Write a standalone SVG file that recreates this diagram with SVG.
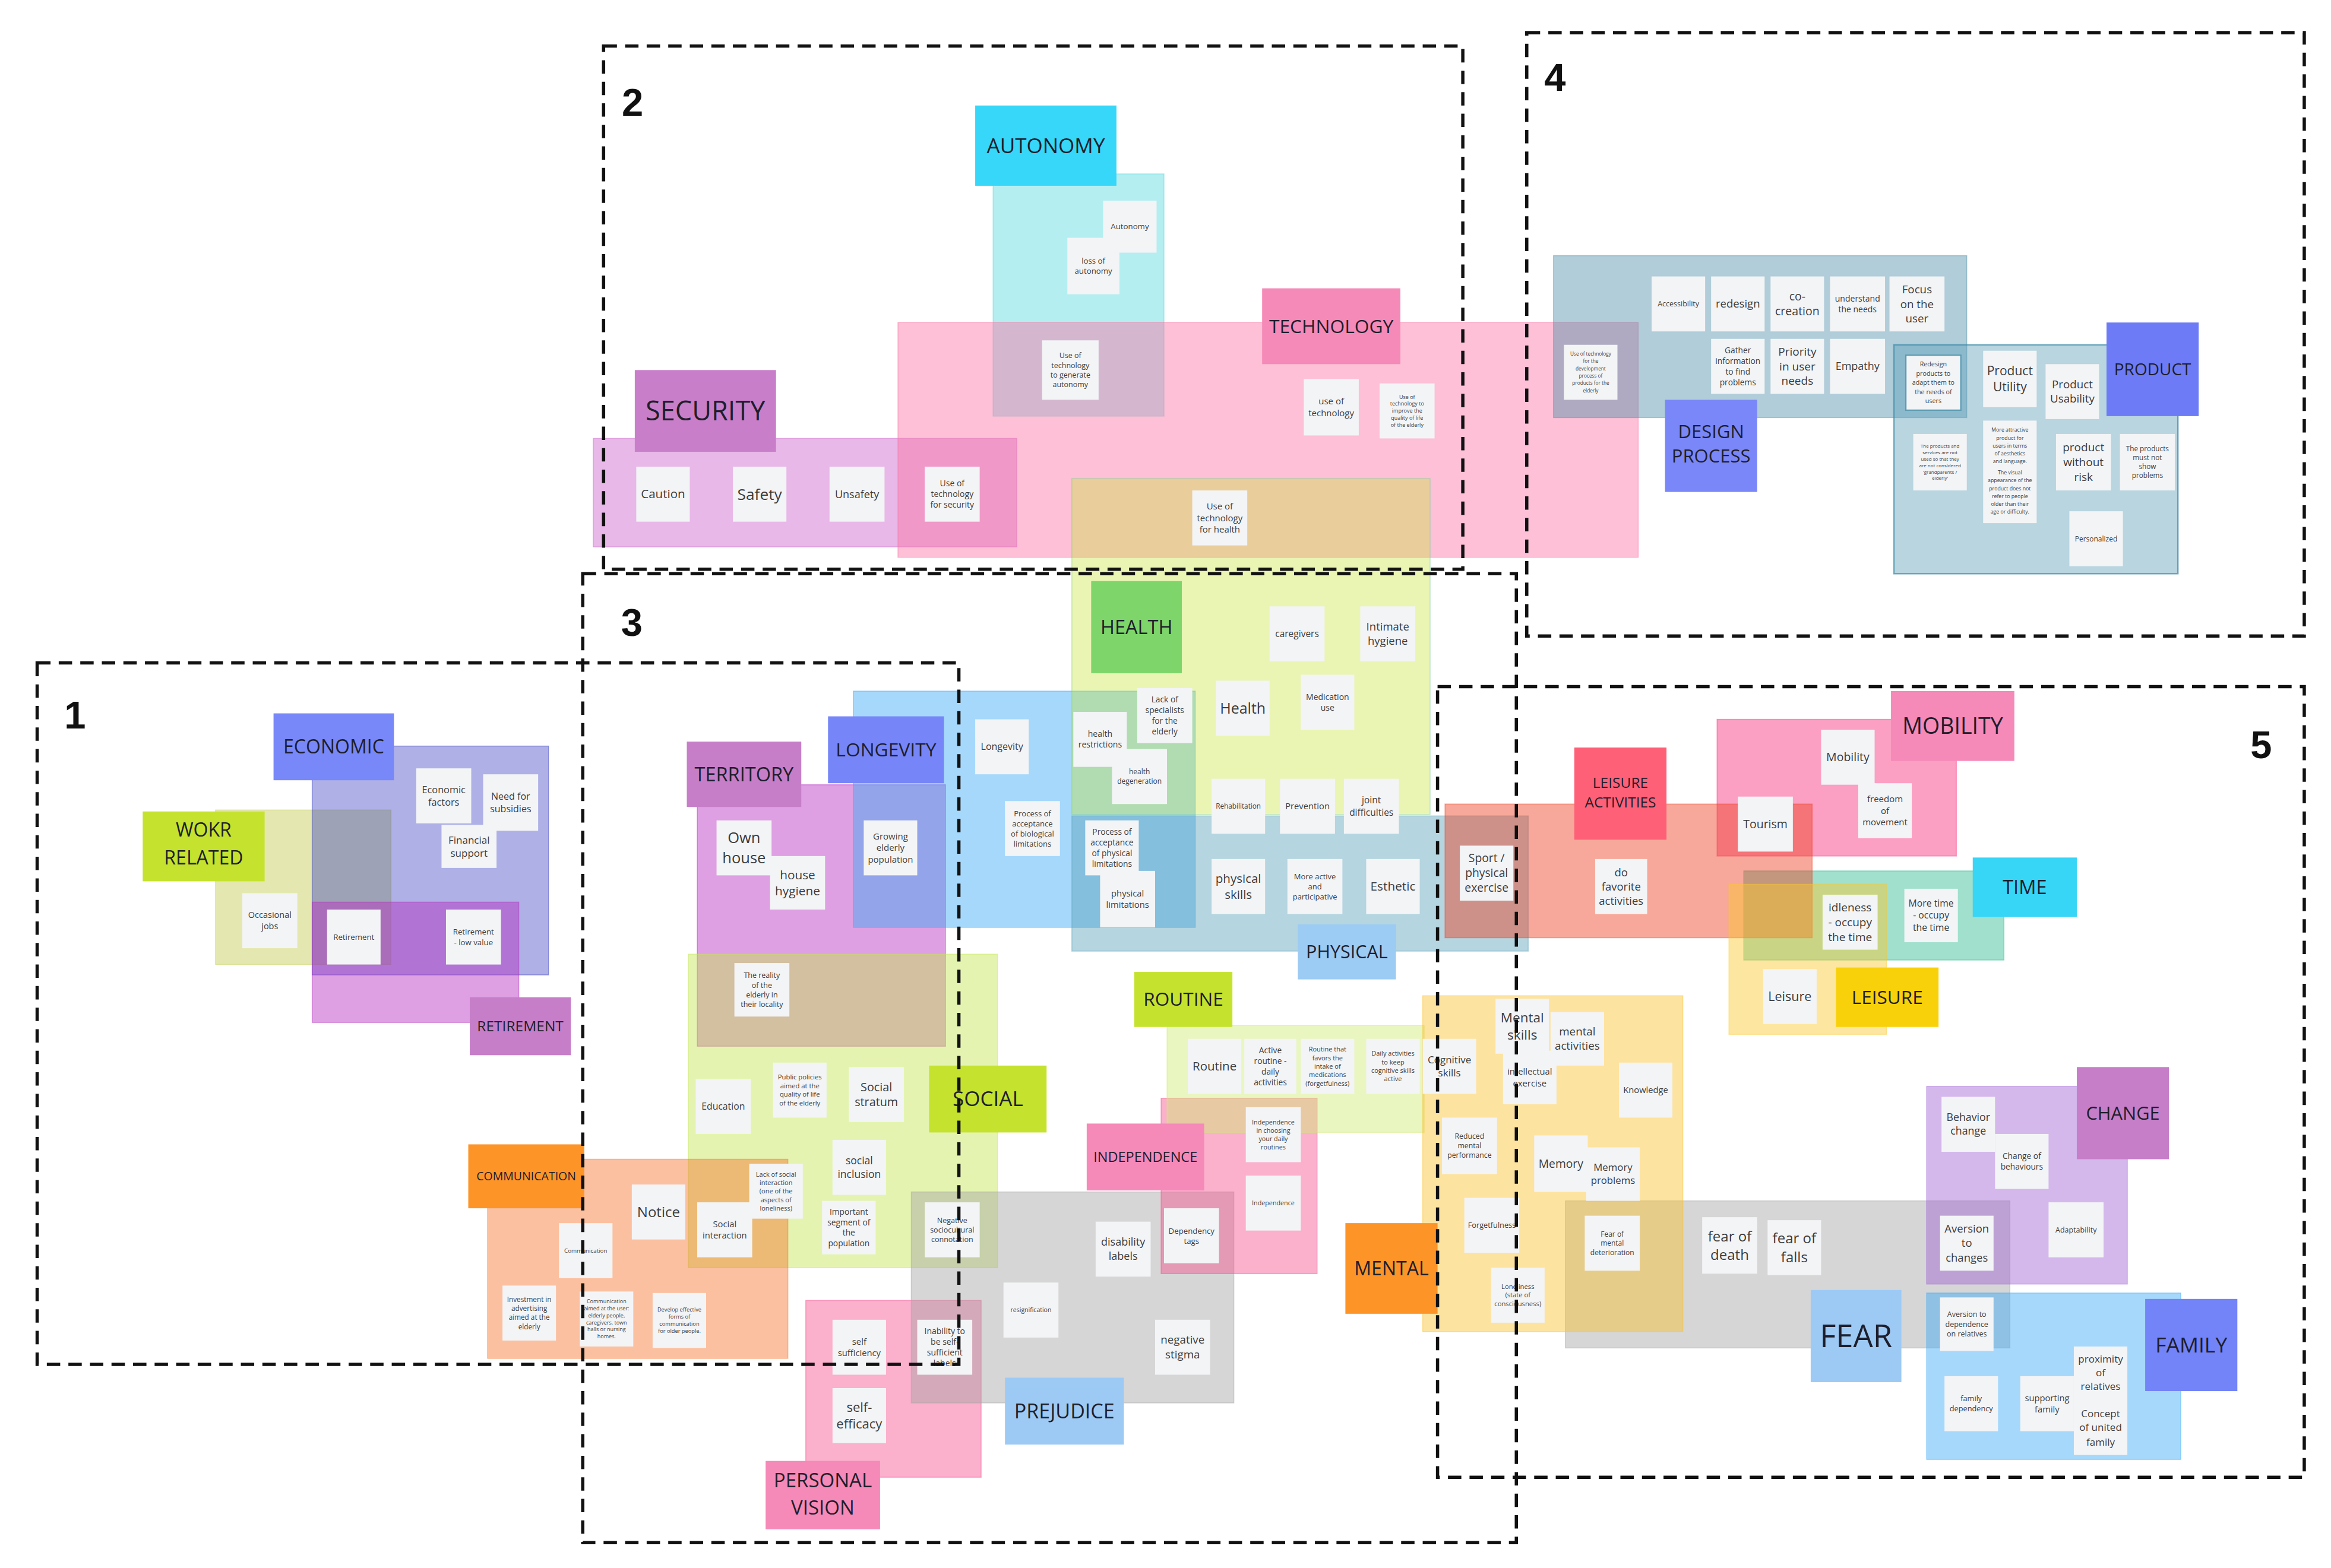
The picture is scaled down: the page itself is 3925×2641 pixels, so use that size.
<svg xmlns="http://www.w3.org/2000/svg" width="3925" height="2641" viewBox="0 0 3925 2641">
<style>
.r{fill-opacity:.45;stroke-opacity:.45;stroke-width:.6}
.n{fill:#f3f4f6}
.t{font-family:'Open Sans','Liberation Sans',Arial,sans-serif;fill:#3c3c3c;text-anchor:middle}
.lt{font-family:'Open Sans','Liberation Sans',Arial,sans-serif;fill:#1e1e2c;text-anchor:middle}
.d{fill:none;stroke:#111;stroke-width:2.2;stroke-dasharray:9 5.5}
.num{font-family:'Liberation Sans',Arial,sans-serif;font-weight:700;font-size:26px;fill:#111;text-anchor:middle}
</style>
<rect width="3925" height="2641" fill="#ffffff"/>
<g transform="scale(2.5032)">
<g id="regions">
<g id="region-work"><rect class="r" x="145" y="545" width="118" height="104" fill="#c3cc4f" stroke="#c3cc4f"/></g>
<g id="region-economic"><rect class="r" x="210" y="502" width="159" height="154" fill="#3439c0" stroke="#3439c0" style="fill-opacity:.4"/></g>
<g id="region-retirement"><rect class="r" x="210" y="607" width="139" height="81" fill="#b62cbf" stroke="#b62cbf"/></g>
<g id="region-security"><rect class="r" x="399" y="295" width="285" height="73" fill="#cc61cc" stroke="#cc61cc"/></g>
<g id="region-autonomy"><rect class="r" x="668" y="117" width="115" height="163" fill="#58d9de" stroke="#58d9de"/></g>
<g id="region-technology"><rect class="r" x="604" y="217" width="498" height="158" fill="#fb73a4" stroke="#fb73a4"/></g>
<g id="region-design-process"><rect class="r" x="1045" y="172" width="278" height="109" fill="#4f90ab" stroke="#4f90ab"/></g>
<g id="region-product"><rect class="r" x="1274" y="232" width="191" height="154" fill="#61a2ba" stroke="#3f8aa6" style="stroke-opacity:.7;stroke-width:1"/></g>
<g id="region-territory"><rect class="r" x="469" y="528" width="167" height="176" fill="#b62cbf" stroke="#b62cbf"/></g>
<g id="region-longevity"><rect class="r" x="574" y="465" width="230" height="159" fill="#39a8f6" stroke="#39a8f6"/></g>
<g id="region-health"><rect class="r" x="721" y="322" width="241" height="226" fill="#c5e32f" stroke="#7ccf9a" style="fill-opacity:.36"/></g>
<g id="region-physical"><rect class="r" x="721" y="549" width="307" height="91" fill="#5ba2ba" stroke="#5ba2ba"/></g>
<g id="region-social"><rect class="r" x="463" y="642" width="208" height="211" fill="#c3e74f" stroke="#c3e74f"/></g>
<g id="region-communication"><rect class="r" x="328" y="780" width="202" height="134" fill="#f6732c" stroke="#f6732c"/></g>
<g id="region-personal-vision"><rect class="r" x="542" y="875" width="118" height="119" fill="#f64f8e" stroke="#f64f8e"/></g>
<g id="region-prejudice"><rect class="r" x="613" y="802" width="217" height="142" fill="#a4a4a4" stroke="#a4a4a4"/></g>
<g id="region-independence"><rect class="r" x="781" y="739" width="105" height="118" fill="#f64f8e" stroke="#f64f8e"/></g>
<g id="region-routine"><rect class="r" x="785" y="690" width="173" height="72" fill="#ceeb73" stroke="#ceeb73"/></g>
<g id="region-mobility"><rect class="r" x="1155" y="484" width="161" height="92" fill="#f62c77" stroke="#f62c77"/></g>
<g id="region-time"><rect class="r" x="1173" y="586" width="175" height="60" fill="#2cba8e" stroke="#2cba8e"/></g>
<g id="region-leisure-activities"><rect class="r" x="972" y="541" width="247" height="90" fill="#ed3e1f" stroke="#ed3e1f"/></g>
<g id="region-leisure"><rect class="r" x="1163" y="595" width="106" height="101" fill="#fbc72c" stroke="#fbc72c"/></g>
<g id="region-fear"><rect class="r" x="1053" y="808" width="299" height="99" fill="#a4a4a4" stroke="#a4a4a4"/></g>
<g id="region-mental"><rect class="r" x="957" y="670" width="175" height="226" fill="#fbc12c" stroke="#fbc12c"/></g>
<g id="region-change"><rect class="r" x="1296" y="731" width="135" height="133" fill="#9f61d5" stroke="#9f61d5"/></g>
<g id="region-family"><rect class="r" x="1296" y="870" width="171" height="112" fill="#39a8f6" stroke="#39a8f6"/></g>
</g>
<g id="labels">
<g id="label-economic"><rect x="184" y="480" width="81" height="45" fill="#7888f8"/><text class="lt" x="224.5" y="502.5" dy=".35em" font-size="12.8">ECONOMIC</text></g>
<g id="label-work-related"><rect x="96" y="546" width="82" height="47" fill="#c5e22f"/><text class="lt" font-size="12.8"><tspan x="137" y="563">WOKR</tspan><tspan x="137" y="581.5">RELATED</tspan></text></g>
<g id="label-retirement"><rect x="316" y="671" width="68" height="39" fill="#c67ec8"/><text class="lt" x="350" y="690.5" dy=".35em" font-size="9.8">RETIREMENT</text></g>
<g id="label-communication"><rect x="315" y="770" width="78" height="43" fill="#fd9428"/><text class="lt" x="354" y="791.5" dy=".35em" font-size="7.8">COMMUNICATION</text></g>
<g id="label-security"><rect x="427" y="249" width="95" height="55" fill="#c97ec9"/><text class="lt" x="474.5" y="276.5" dy=".35em" font-size="18">SECURITY</text></g>
<g id="label-autonomy"><rect x="656" y="71" width="95" height="54" fill="#36d7f8"/><text class="lt" x="703.5" y="98" dy=".35em" font-size="14">AUTONOMY</text></g>
<g id="label-technology"><rect x="849" y="194" width="93" height="51" fill="#f589b8"/><text class="lt" x="895.5" y="219.5" dy=".35em" font-size="12.7">TECHNOLOGY</text></g>
<g id="label-health"><rect x="734" y="391" width="61" height="62" fill="#7ed66a"/><text class="lt" x="764.5" y="422" dy=".35em" font-size="13">HEALTH</text></g>
<g id="label-longevity"><rect x="557" y="482" width="78" height="45" fill="#7686f8"/><text class="lt" x="596" y="504.5" dy=".35em" font-size="12.7">LONGEVITY</text></g>
<g id="label-territory"><rect x="462" y="499" width="77" height="44" fill="#c67ec8"/><text class="lt" x="500.5" y="521" dy=".35em" font-size="13">TERRITORY</text></g>
<g id="label-physical"><rect x="873" y="622" width="66" height="37" fill="#9ccbf3"/><text class="lt" x="906" y="640.5" dy=".35em" font-size="12.2">PHYSICAL</text></g>
<g id="label-routine"><rect x="763" y="654" width="66" height="37" fill="#c5e22f"/><text class="lt" x="796" y="672.5" dy=".35em" font-size="12.6">ROUTINE</text></g>
<g id="label-social"><rect x="625" y="717" width="79" height="45" fill="#c5e22f"/><text class="lt" x="664.5" y="739.5" dy=".35em" font-size="14">SOCIAL</text></g>
<g id="label-independence"><rect x="731" y="756" width="79" height="45" fill="#f589b8"/><text class="lt" x="770.5" y="778.5" dy=".35em" font-size="9.4">INDEPENDENCE</text></g>
<g id="label-prejudice"><rect x="676" y="927" width="80" height="45" fill="#9dcaf5"/><text class="lt" x="716" y="949.5" dy=".35em" font-size="13.6">PREJUDICE</text></g>
<g id="label-personal-vision"><rect x="515" y="983" width="77" height="46" fill="#f589b8"/><text class="lt" font-size="13.2"><tspan x="553.5" y="1000.7">PERSONAL</tspan><tspan x="553.5" y="1019.1">VISION</tspan></text></g>
<g id="label-mental"><rect x="905" y="823" width="62" height="61" fill="#fd9428"/><text class="lt" x="936" y="853.5" dy=".35em" font-size="12.8">MENTAL</text></g>
<g id="label-leisure-activities"><rect x="1059" y="503" width="62" height="62" fill="#fd6077"/><text class="lt" font-size="9.8"><tspan x="1090" y="530.1">LEISURE</tspan><tspan x="1090" y="543.2">ACTIVITIES</tspan></text></g>
<g id="label-mobility"><rect x="1272" y="465" width="83" height="47" fill="#f589b8"/><text class="lt" x="1313.5" y="488.5" dy=".35em" font-size="15">MOBILITY</text></g>
<g id="label-time"><rect x="1327" y="577" width="70" height="40" fill="#37d5f6"/><text class="lt" x="1362" y="597" dy=".35em" font-size="13">TIME</text></g>
<g id="label-leisure"><rect x="1235" y="651" width="69" height="40" fill="#f9d10a"/><text class="lt" x="1269.5" y="671" dy=".35em" font-size="12.6">LEISURE</text></g>
<g id="label-fear"><rect x="1218" y="868" width="61" height="62" fill="#9dcaf5"/><text class="lt" x="1248.5" y="899" dy=".35em" font-size="21">FEAR</text></g>
<g id="label-change"><rect x="1397" y="718" width="62" height="62" fill="#c67ec8"/><text class="lt" x="1428" y="749" dy=".35em" font-size="12.3">CHANGE</text></g>
<g id="label-family"><rect x="1443" y="874" width="62" height="62" fill="#7383f8"/><text class="lt" x="1474" y="905" dy=".35em" font-size="14.2">FAMILY</text></g>
<g id="label-product"><rect x="1417" y="217" width="62" height="63" fill="#6d7cf6"/><text class="lt" x="1448" y="248.5" dy=".35em" font-size="11.2">PRODUCT</text></g>
<g id="label-design-process"><rect x="1120" y="269" width="62" height="62" fill="#7a87f8"/><text class="lt" font-size="12.4"><tspan x="1151" y="295">DESIGN</tspan><tspan x="1151" y="311.3">PROCESS</tspan></text></g>
</g>
<g id="notes">
<g id="n1"><rect class="n" x="280" y="517" width="37" height="37"/><text class="t" x="298.5" y="531.3" font-size="6.5"><tspan x="298.5" dy=".35em">Economic</tspan><tspan x="298.5" dy="1.3em">factors</tspan></text></g>
<g id="n2"><rect class="n" x="325" y="521" width="37" height="38"/><text class="t" x="343.5" y="535.8" font-size="6.4"><tspan x="343.5" dy=".35em">Need for</tspan><tspan x="343.5" dy="1.3em">subsidies</tspan></text></g>
<g id="n3"><rect class="n" x="297" y="555" width="37" height="29"/><text class="t" x="315.5" y="565.1" font-size="6.8"><tspan x="315.5" dy=".35em">Financial</tspan><tspan x="315.5" dy="1.3em">support</tspan></text></g>
<g id="n4"><rect class="n" x="163" y="601" width="37" height="37"/><text class="t" x="181.5" y="615.7" font-size="5.8"><tspan x="181.5" dy=".35em">Occasional</tspan><tspan x="181.5" dy="1.3em">jobs</tspan></text></g>
<g id="n5"><rect class="n" x="220" y="612" width="36" height="37"/><text class="t" x="238" y="630.5" dy=".35em" font-size="5.3">Retirement</text></g>
<g id="n6"><rect class="n" x="300" y="612" width="37" height="37"/><text class="t" x="318.5" y="627.1" font-size="5.3"><tspan x="318.5" dy=".35em">Retirement</tspan><tspan x="318.5" dy="1.3em">- low value</tspan></text></g>
<g id="n7"><rect class="n" x="428" y="314" width="36" height="37"/><text class="t" x="446" y="332.5" dy=".35em" font-size="8.2">Caution</text></g>
<g id="n8"><rect class="n" x="493" y="314" width="36" height="37"/><text class="t" x="511" y="332.5" dy=".35em" font-size="10.5">Safety</text></g>
<g id="n9"><rect class="n" x="558" y="314" width="37" height="37"/><text class="t" x="576.5" y="332.5" dy=".35em" font-size="7.2">Unsafety</text></g>
<g id="n10"><rect class="n" x="622" y="314" width="37" height="37"/><text class="t" x="640.5" y="325.2" font-size="5.6"><tspan x="640.5" dy=".35em">Use of</tspan><tspan x="640.5" dy="1.3em">technology</tspan><tspan x="640.5" dy="1.3em">for security</tspan></text></g>
<g id="n11"><rect class="n" x="742" y="135" width="36" height="35"/><text class="t" x="760" y="152.5" dy=".35em" font-size="5.3">Autonomy</text></g>
<g id="n12"><rect class="n" x="718" y="160" width="35" height="38"/><text class="t" x="735.5" y="175.6" font-size="5.3"><tspan x="735.5" dy=".35em">loss of</tspan><tspan x="735.5" dy="1.3em">autonomy</tspan></text></g>
<g id="n13"><rect class="n" x="701" y="229" width="38" height="40"/><text class="t" x="720" y="239.3" font-size="5"><tspan x="720" dy=".35em">Use of</tspan><tspan x="720" dy="1.3em">technology</tspan><tspan x="720" dy="1.3em">to generate</tspan><tspan x="720" dy="1.3em">autonomy</tspan></text></g>
<g id="n14"><rect class="n" x="877" y="255" width="37" height="38"/><text class="t" x="895.5" y="270.1" font-size="6"><tspan x="895.5" dy=".35em">use of</tspan><tspan x="895.5" dy="1.3em">technology</tspan></text></g>
<g id="n15"><rect class="n" x="928" y="258" width="37" height="37"/><text class="t" x="946.5" y="267.1" font-size="3.6"><tspan x="946.5" dy=".35em">Use of</tspan><tspan x="946.5" dy="1.3em">technology to</tspan><tspan x="946.5" dy="1.3em">improve the</tspan><tspan x="946.5" dy="1.3em">quality of life</tspan><tspan x="946.5" dy="1.3em">of the elderly</tspan></text></g>
<g id="n16"><rect class="n" x="802" y="330" width="37" height="37"/><text class="t" x="820.5" y="340.7" font-size="6"><tspan x="820.5" dy=".35em">Use of</tspan><tspan x="820.5" dy="1.3em">technology</tspan><tspan x="820.5" dy="1.3em">for health</tspan></text></g>
<g id="n17"><rect class="n" x="1052" y="232" width="36" height="37"/><text class="t" x="1070" y="238.1" font-size="3.3"><tspan x="1070" dy=".35em">Use of technology</tspan><tspan x="1070" dy="1.5em">for the</tspan><tspan x="1070" dy="1.5em">development</tspan><tspan x="1070" dy="1.5em">process of</tspan><tspan x="1070" dy="1.5em">products for the</tspan><tspan x="1070" dy="1.5em">elderly</tspan></text></g>
<g id="n18"><rect class="n" x="1111" y="186" width="36" height="37"/><text class="t" x="1129" y="204.5" dy=".35em" font-size="5">Accessibility</text></g>
<g id="n19"><rect class="n" x="1151" y="186" width="36" height="37"/><text class="t" x="1169" y="204.5" dy=".35em" font-size="7.4">redesign</text></g>
<g id="n20"><rect class="n" x="1191" y="186" width="36" height="37"/><text class="t" x="1209" y="199.4" font-size="7.8"><tspan x="1209" dy=".35em">co-</tspan><tspan x="1209" dy="1.3em">creation</tspan></text></g>
<g id="n21"><rect class="n" x="1231" y="186" width="37" height="37"/><text class="t" x="1249.5" y="200.9" font-size="5.6"><tspan x="1249.5" dy=".35em">understand</tspan><tspan x="1249.5" dy="1.3em">the needs</tspan></text></g>
<g id="n22"><rect class="n" x="1271" y="186" width="37" height="37"/><text class="t" x="1289.5" y="194.8" font-size="7.5"><tspan x="1289.5" dy=".35em">Focus</tspan><tspan x="1289.5" dy="1.3em">on the</tspan><tspan x="1289.5" dy="1.3em">user</tspan></text></g>
<g id="n23"><rect class="n" x="1151" y="228" width="36" height="37"/><text class="t" x="1169" y="235.8" font-size="5.5"><tspan x="1169" dy=".35em">Gather</tspan><tspan x="1169" dy="1.3em">information</tspan><tspan x="1169" dy="1.3em">to find</tspan><tspan x="1169" dy="1.3em">problems</tspan></text></g>
<g id="n24"><rect class="n" x="1191" y="228" width="36" height="37"/><text class="t" x="1209" y="236.6" font-size="7.6"><tspan x="1209" dy=".35em">Priority</tspan><tspan x="1209" dy="1.3em">in user</tspan><tspan x="1209" dy="1.3em">needs</tspan></text></g>
<g id="n25"><rect class="n" x="1231" y="228" width="37" height="37"/><text class="t" x="1249.5" y="246.5" dy=".35em" font-size="7.2">Empathy</text></g>
<g id="n26"><rect class="n" x="1282" y="239" width="37" height="37" stroke="#5d9cb3" stroke-width=".9"/><text class="t" x="1300.5" y="245" font-size="4.3"><tspan x="1300.5" dy=".35em">Redesign</tspan><tspan x="1300.5" dy="1.45em">products to</tspan><tspan x="1300.5" dy="1.45em">adapt them to</tspan><tspan x="1300.5" dy="1.45em">the needs of</tspan><tspan x="1300.5" dy="1.45em">users</tspan></text></g>
<g id="n27"><rect class="n" x="1334" y="236" width="36" height="38"/><text class="t" x="1352" y="249.5" font-size="8.4"><tspan x="1352" dy=".35em">Product</tspan><tspan x="1352" dy="1.3em">Utility</tspan></text></g>
<g id="n28"><rect class="n" x="1376" y="245" width="36" height="37"/><text class="t" x="1394" y="258.6" font-size="7.5"><tspan x="1394" dy=".35em">Product</tspan><tspan x="1394" dy="1.3em">Usability</tspan></text></g>
<g id="n29"><rect class="n" x="1287" y="292" width="36" height="38"/><text class="t" x="1305" y="300.2" font-size="3.2"><tspan x="1305" dy=".35em">The products and</tspan><tspan x="1305" dy="1.35em">services are not</tspan><tspan x="1305" dy="1.35em">used so that they</tspan><tspan x="1305" dy="1.35em">are not considered</tspan><tspan x="1305" dy="1.35em">'grandparents /</tspan><tspan x="1305" dy="1.35em">elderly'</tspan></text></g>
<g id="n30"><rect class="n" x="1334" y="283" width="36" height="69"/><text class="t" x="1352" y="289.4" font-size="3.5"><tspan x="1352" dy=".35em">More attractive</tspan><tspan x="1352" dy="1.5em">product for</tspan><tspan x="1352" dy="1.5em">users in terms</tspan><tspan x="1352" dy="1.5em">of aesthetics</tspan><tspan x="1352" dy="1.5em">and language.</tspan><tspan x="1352" dy="2.2em">The visual</tspan><tspan x="1352" dy="1.5em">appearance of the</tspan><tspan x="1352" dy="1.5em">product does not</tspan><tspan x="1352" dy="1.5em">refer to people</tspan><tspan x="1352" dy="1.5em">older than their</tspan><tspan x="1352" dy="1.5em">age or difficulty.</tspan></text></g>
<g id="n31"><rect class="n" x="1383" y="292" width="37" height="38"/><text class="t" x="1401.5" y="301.1" font-size="7.6"><tspan x="1401.5" dy=".35em">product</tspan><tspan x="1401.5" dy="1.3em">without</tspan><tspan x="1401.5" dy="1.3em">risk</tspan></text></g>
<g id="n32"><rect class="n" x="1426" y="292" width="37" height="38"/><text class="t" x="1444.5" y="301.8" font-size="4.7"><tspan x="1444.5" dy=".35em">The products</tspan><tspan x="1444.5" dy="1.3em">must not</tspan><tspan x="1444.5" dy="1.3em">show</tspan><tspan x="1444.5" dy="1.3em">problems</tspan></text></g>
<g id="n33"><rect class="n" x="1392" y="344" width="36" height="37"/><text class="t" x="1410" y="362.5" dy=".35em" font-size="4.8">Personalized</text></g>
<g id="n34"><rect class="n" x="854" y="408" width="37" height="37"/><text class="t" x="872.5" y="426.5" dy=".35em" font-size="6.2">caregivers</text></g>
<g id="n35"><rect class="n" x="915" y="408" width="37" height="37"/><text class="t" x="933.5" y="421.7" font-size="7.4"><tspan x="933.5" dy=".35em">Intimate</tspan><tspan x="933.5" dy="1.3em">hygiene</tspan></text></g>
<g id="n36"><rect class="n" x="818" y="458" width="36" height="37"/><text class="t" x="836" y="476.5" dy=".35em" font-size="10">Health</text></g>
<g id="n37"><rect class="n" x="875" y="454" width="36" height="37"/><text class="t" x="893" y="468.9" font-size="5.6"><tspan x="893" dy=".35em">Medication</tspan><tspan x="893" dy="1.3em">use</tspan></text></g>
<g id="n38"><rect class="n" x="765" y="463" width="37" height="37"/><text class="t" x="783.5" y="470.8" font-size="5.5"><tspan x="783.5" dy=".35em">Lack of</tspan><tspan x="783.5" dy="1.3em">specialists</tspan><tspan x="783.5" dy="1.3em">for the</tspan><tspan x="783.5" dy="1.3em">elderly</tspan></text></g>
<g id="n39"><rect class="n" x="722" y="479" width="36" height="37"/><text class="t" x="740" y="493.9" font-size="5.6"><tspan x="740" dy=".35em">health</tspan><tspan x="740" dy="1.3em">restrictions</tspan></text></g>
<g id="n40"><rect class="n" x="748" y="504" width="37" height="37"/><text class="t" x="766.5" y="519.4" font-size="4.8"><tspan x="766.5" dy=".35em">health</tspan><tspan x="766.5" dy="1.3em">degeneration</tspan></text></g>
<g id="n41"><rect class="n" x="815" y="524" width="36" height="37"/><text class="t" x="833" y="542.5" dy=".35em" font-size="4.7">Rehabilitation</text></g>
<g id="n42"><rect class="n" x="861" y="524" width="37" height="37"/><text class="t" x="879.5" y="542.5" dy=".35em" font-size="5.9">Prevention</text></g>
<g id="n43"><rect class="n" x="904" y="524" width="37" height="37"/><text class="t" x="922.5" y="538.5" font-size="6.2"><tspan x="922.5" dy=".35em">joint</tspan><tspan x="922.5" dy="1.3em">difficulties</tspan></text></g>
<g id="n44"><rect class="n" x="656" y="484" width="36" height="37"/><text class="t" x="674" y="502.5" dy=".35em" font-size="6.4">Longevity</text></g>
<g id="n45"><rect class="n" x="676" y="539" width="37" height="37"/><text class="t" x="694.5" y="547.4" font-size="5.2"><tspan x="694.5" dy=".35em">Process of</tspan><tspan x="694.5" dy="1.3em">acceptance</tspan><tspan x="694.5" dy="1.3em">of biological</tspan><tspan x="694.5" dy="1.3em">limitations</tspan></text></g>
<g id="n46"><rect class="n" x="581" y="552" width="36" height="37"/><text class="t" x="599" y="562.7" font-size="6"><tspan x="599" dy=".35em">Growing</tspan><tspan x="599" dy="1.3em">elderly</tspan><tspan x="599" dy="1.3em">population</tspan></text></g>
<g id="n47"><rect class="n" x="730" y="552" width="36" height="37"/><text class="t" x="748" y="559.8" font-size="5.5"><tspan x="748" dy=".35em">Process of</tspan><tspan x="748" dy="1.3em">acceptance</tspan><tspan x="748" dy="1.3em">of physical</tspan><tspan x="748" dy="1.3em">limitations</tspan></text></g>
<g id="n48"><rect class="n" x="740" y="586" width="37" height="38"/><text class="t" x="758.5" y="601.2" font-size="5.9"><tspan x="758.5" dy=".35em">physical</tspan><tspan x="758.5" dy="1.3em">limitations</tspan></text></g>
<g id="n49"><rect class="n" x="815" y="578" width="36" height="37"/><text class="t" x="833" y="591.2" font-size="8.2"><tspan x="833" dy=".35em">physical</tspan><tspan x="833" dy="1.3em">skills</tspan></text></g>
<g id="n50"><rect class="n" x="866" y="578" width="37" height="37"/><text class="t" x="884.5" y="589.7" font-size="5.2"><tspan x="884.5" dy=".35em">More active</tspan><tspan x="884.5" dy="1.3em">and</tspan><tspan x="884.5" dy="1.3em">participative</tspan></text></g>
<g id="n51"><rect class="n" x="919" y="578" width="36" height="37"/><text class="t" x="937" y="596.5" dy=".35em" font-size="8.3">Esthetic</text></g>
<g id="n52"><rect class="n" x="982" y="569" width="36" height="37"/><text class="t" x="1000" y="577.5" font-size="7.7"><tspan x="1000" dy=".35em">Sport /</tspan><tspan x="1000" dy="1.3em">physical</tspan><tspan x="1000" dy="1.3em">exercise</tspan></text></g>
<g id="n53"><rect class="n" x="482" y="552" width="37" height="37"/><text class="t" x="500.5" y="563.9" font-size="10.2"><tspan x="500.5" dy=".35em">Own</tspan><tspan x="500.5" dy="1.3em">house</tspan></text></g>
<g id="n54"><rect class="n" x="518" y="576" width="37" height="36"/><text class="t" x="536.5" y="588.6" font-size="8.3"><tspan x="536.5" dy=".35em">house</tspan><tspan x="536.5" dy="1.3em">hygiene</tspan></text></g>
<g id="n55"><rect class="n" x="494" y="648" width="37" height="36"/><text class="t" x="512.5" y="656.3" font-size="5"><tspan x="512.5" dy=".35em">The reality</tspan><tspan x="512.5" dy="1.3em">of the</tspan><tspan x="512.5" dy="1.3em">elderly in</tspan><tspan x="512.5" dy="1.3em">their locality</tspan></text></g>
<g id="n56"><rect class="n" x="468" y="726" width="37" height="37"/><text class="t" x="486.5" y="744.5" dy=".35em" font-size="6.3">Education</text></g>
<g id="n57"><rect class="n" x="520" y="715" width="36" height="37"/><text class="t" x="538" y="724.7" font-size="4.5"><tspan x="538" dy=".35em">Public policies</tspan><tspan x="538" dy="1.3em">aimed at the</tspan><tspan x="538" dy="1.3em">quality of life</tspan><tspan x="538" dy="1.3em">of the elderly</tspan></text></g>
<g id="n58"><rect class="n" x="571" y="718" width="37" height="37"/><text class="t" x="589.5" y="731.4" font-size="7.9"><tspan x="589.5" dy=".35em">Social</tspan><tspan x="589.5" dy="1.3em">stratum</tspan></text></g>
<g id="n59"><rect class="n" x="560" y="767" width="36" height="37"/><text class="t" x="578" y="781" font-size="7"><tspan x="578" dy=".35em">social</tspan><tspan x="578" dy="1.3em">inclusion</tspan></text></g>
<g id="n60"><rect class="n" x="504" y="783" width="36" height="37"/><text class="t" x="522" y="790.1" font-size="4.4"><tspan x="522" dy=".35em">Lack of social</tspan><tspan x="522" dy="1.3em">interaction</tspan><tspan x="522" dy="1.3em">(one of the</tspan><tspan x="522" dy="1.3em">aspects of</tspan><tspan x="522" dy="1.3em">loneliness)</tspan></text></g>
<g id="n61"><rect class="n" x="469" y="809" width="37" height="37"/><text class="t" x="487.5" y="823.7" font-size="5.9"><tspan x="487.5" dy=".35em">Social</tspan><tspan x="487.5" dy="1.3em">interaction</tspan></text></g>
<g id="n62"><rect class="n" x="553" y="808" width="36" height="36"/><text class="t" x="571" y="815.3" font-size="5.5"><tspan x="571" dy=".35em">Important</tspan><tspan x="571" dy="1.3em">segment of</tspan><tspan x="571" dy="1.3em">the</tspan><tspan x="571" dy="1.3em">population</tspan></text></g>
<g id="n63"><rect class="n" x="622" y="809" width="37" height="37"/><text class="t" x="640.5" y="821" font-size="5"><tspan x="640.5" dy=".35em">Negative</tspan><tspan x="640.5" dy="1.3em">sociocultural</tspan><tspan x="640.5" dy="1.3em">connotation</tspan></text></g>
<g id="n64"><rect class="n" x="425" y="797" width="36" height="37"/><text class="t" x="443" y="815.5" dy=".35em" font-size="9.6">Notice</text></g>
<g id="n65"><rect class="n" x="376" y="823" width="36" height="37"/><text class="t" x="394" y="841.5" dy=".35em" font-size="3.9">Communication</text></g>
<g id="n66"><rect class="n" x="338" y="865" width="36" height="37"/><text class="t" x="356" y="874.3" font-size="4.7"><tspan x="356" dy=".35em">Investment in</tspan><tspan x="356" dy="1.3em">advertising</tspan><tspan x="356" dy="1.3em">aimed at the</tspan><tspan x="356" dy="1.3em">elderly</tspan></text></g>
<g id="n67"><rect class="n" x="390" y="869" width="36" height="37"/><text class="t" x="408" y="875.8" font-size="3.6"><tspan x="408" dy=".35em">Communication</tspan><tspan x="408" dy="1.3em">aimed at the user:</tspan><tspan x="408" dy="1.3em">elderly people,</tspan><tspan x="408" dy="1.3em">caregivers, town</tspan><tspan x="408" dy="1.3em">halls or nursing</tspan><tspan x="408" dy="1.3em">homes.</tspan></text></g>
<g id="n68"><rect class="n" x="439" y="870" width="36" height="37"/><text class="t" x="457" y="881.3" font-size="3.7"><tspan x="457" dy=".35em">Develop effective</tspan><tspan x="457" dy="1.3em">forms of</tspan><tspan x="457" dy="1.3em">communication</tspan><tspan x="457" dy="1.3em">for older people.</tspan></text></g>
<g id="n69"><rect class="n" x="560" y="888" width="36" height="37"/><text class="t" x="578" y="902.7" font-size="5.9"><tspan x="578" dy=".35em">self</tspan><tspan x="578" dy="1.3em">sufficiency</tspan></text></g>
<g id="n70"><rect class="n" x="560" y="934" width="36" height="37"/><text class="t" x="578" y="946.8" font-size="8.8"><tspan x="578" dy=".35em">self-</tspan><tspan x="578" dy="1.3em">efficacy</tspan></text></g>
<g id="n71"><rect class="n" x="617" y="888" width="37" height="37"/><text class="t" x="635.5" y="895.6" font-size="5.6"><tspan x="635.5" dy=".35em">Inability to</tspan><tspan x="635.5" dy="1.3em">be self-</tspan><tspan x="635.5" dy="1.3em">sufficient</tspan><tspan x="635.5" dy="1.3em">labels</tspan></text></g>
<g id="n72"><rect class="n" x="675" y="863" width="37" height="37"/><text class="t" x="693.5" y="881.5" dy=".35em" font-size="4.2">resignification</text></g>
<g id="n73"><rect class="n" x="737" y="822" width="37" height="37"/><text class="t" x="755.5" y="835.8" font-size="7.2"><tspan x="755.5" dy=".35em">disability</tspan><tspan x="755.5" dy="1.3em">labels</tspan></text></g>
<g id="n74"><rect class="n" x="783" y="813" width="37" height="37"/><text class="t" x="801.5" y="828.1" font-size="5.3"><tspan x="801.5" dy=".35em">Dependency</tspan><tspan x="801.5" dy="1.3em">tags</tspan></text></g>
<g id="n75"><rect class="n" x="777" y="888" width="37" height="37"/><text class="t" x="795.5" y="901.6" font-size="7.5"><tspan x="795.5" dy=".35em">negative</tspan><tspan x="795.5" dy="1.3em">stigma</tspan></text></g>
<g id="n76"><rect class="n" x="838" y="745" width="37" height="37"/><text class="t" x="856.5" y="755.1" font-size="4.3"><tspan x="856.5" dy=".35em">Independence</tspan><tspan x="856.5" dy="1.3em">in choosing</tspan><tspan x="856.5" dy="1.3em">your daily</tspan><tspan x="856.5" dy="1.3em">routines</tspan></text></g>
<g id="n77"><rect class="n" x="838" y="791" width="37" height="37"/><text class="t" x="856.5" y="809.5" dy=".35em" font-size="4.3">Independence</text></g>
<g id="n78"><rect class="n" x="799" y="699" width="36" height="37"/><text class="t" x="817" y="717.5" dy=".35em" font-size="8.2">Routine</text></g>
<g id="n79"><rect class="n" x="837" y="699" width="35" height="37"/><text class="t" x="854.5" y="706.8" font-size="5.5"><tspan x="854.5" dy=".35em">Active</tspan><tspan x="854.5" dy="1.3em">routine -</tspan><tspan x="854.5" dy="1.3em">daily</tspan><tspan x="854.5" dy="1.3em">activities</tspan></text></g>
<g id="n80"><rect class="n" x="875" y="699" width="36" height="37"/><text class="t" x="893" y="706.1" font-size="4.4"><tspan x="893" dy=".35em">Routine that</tspan><tspan x="893" dy="1.3em">favors the</tspan><tspan x="893" dy="1.3em">intake of</tspan><tspan x="893" dy="1.3em">medications</tspan><tspan x="893" dy="1.3em">(forgetfulness)</tspan></text></g>
<g id="n81"><rect class="n" x="919" y="699" width="36" height="37"/><text class="t" x="937" y="708.9" font-size="4.4"><tspan x="937" dy=".35em">Daily activities</tspan><tspan x="937" dy="1.3em">to keep</tspan><tspan x="937" dy="1.3em">cognitive skills</tspan><tspan x="937" dy="1.3em">active</tspan></text></g>
<g id="n82"><rect class="n" x="1225" y="491" width="36" height="37"/><text class="t" x="1243" y="509.5" dy=".35em" font-size="7.8">Mobility</text></g>
<g id="n83"><rect class="n" x="1250" y="527" width="36" height="37"/><text class="t" x="1268" y="537.7" font-size="6"><tspan x="1268" dy=".35em">freedom</tspan><tspan x="1268" dy="1.3em">of</tspan><tspan x="1268" dy="1.3em">movement</tspan></text></g>
<g id="n84"><rect class="n" x="1169" y="536" width="37" height="37"/><text class="t" x="1187.5" y="554.5" dy=".35em" font-size="7.8">Tourism</text></g>
<g id="n85"><rect class="n" x="1073" y="578" width="35" height="37"/><text class="t" x="1090.5" y="586.9" font-size="7.4"><tspan x="1090.5" dy=".35em">do</tspan><tspan x="1090.5" dy="1.3em">favorite</tspan><tspan x="1090.5" dy="1.3em">activities</tspan></text></g>
<g id="n86"><rect class="n" x="1226" y="602" width="37" height="37"/><text class="t" x="1244.5" y="610.6" font-size="7.6"><tspan x="1244.5" dy=".35em">idleness</tspan><tspan x="1244.5" dy="1.3em">- occupy</tspan><tspan x="1244.5" dy="1.3em">the time</tspan></text></g>
<g id="n87"><rect class="n" x="1281" y="598" width="36" height="36"/><text class="t" x="1299" y="607.8" font-size="6.3"><tspan x="1299" dy=".35em">More time</tspan><tspan x="1299" dy="1.3em">- occupy</tspan><tspan x="1299" dy="1.3em">the time</tspan></text></g>
<g id="n88"><rect class="n" x="1186" y="652" width="36" height="37"/><text class="t" x="1204" y="670.5" dy=".35em" font-size="8.6">Leisure</text></g>
<g id="n89"><rect class="n" x="1006" y="672" width="36" height="37"/><text class="t" x="1024" y="684.7" font-size="9"><tspan x="1024" dy=".35em">Mental</tspan><tspan x="1024" dy="1.3em">skills</tspan></text></g>
<g id="n90"><rect class="n" x="1043" y="681" width="36" height="36"/><text class="t" x="1061" y="694.1" font-size="7.5"><tspan x="1061" dy=".35em">mental</tspan><tspan x="1061" dy="1.3em">activities</tspan></text></g>
<g id="n91"><rect class="n" x="1011" y="707" width="36" height="36"/><text class="t" x="1029" y="721.2" font-size="5.9"><tspan x="1029" dy=".35em">intellectual</tspan><tspan x="1029" dy="1.3em">exercise</tspan></text></g>
<g id="n92"><rect class="n" x="957" y="699" width="36" height="37"/><text class="t" x="975" y="713.1" font-size="6.8"><tspan x="975" dy=".35em">Cognitive</tspan><tspan x="975" dy="1.3em">skills</tspan></text></g>
<g id="n93"><rect class="n" x="1089" y="715" width="36" height="37"/><text class="t" x="1107" y="733.5" dy=".35em" font-size="5.9">Knowledge</text></g>
<g id="n94"><rect class="n" x="970" y="752" width="37" height="38"/><text class="t" x="988.5" y="764.6" font-size="4.9"><tspan x="988.5" dy=".35em">Reduced</tspan><tspan x="988.5" dy="1.3em">mental</tspan><tspan x="988.5" dy="1.3em">performance</tspan></text></g>
<g id="n95"><rect class="n" x="1032" y="764" width="36" height="38"/><text class="t" x="1050" y="783" dy=".35em" font-size="7.7">Memory</text></g>
<g id="n96"><rect class="n" x="1067" y="772" width="36" height="36"/><text class="t" x="1085" y="785.6" font-size="6.7"><tspan x="1085" dy=".35em">Memory</tspan><tspan x="1085" dy="1.3em">problems</tspan></text></g>
<g id="n97"><rect class="n" x="985" y="806" width="37" height="37"/><text class="t" x="1003.5" y="824.5" dy=".35em" font-size="5.1">Forgetfulness</text></g>
<g id="n98"><rect class="n" x="1066" y="818" width="37" height="37"/><text class="t" x="1084.5" y="830.3" font-size="4.8"><tspan x="1084.5" dy=".35em">Fear of</tspan><tspan x="1084.5" dy="1.3em">mental</tspan><tspan x="1084.5" dy="1.3em">deterioration</tspan></text></g>
<g id="n99"><rect class="n" x="1003" y="853" width="36" height="37"/><text class="t" x="1021" y="865.6" font-size="4.5"><tspan x="1021" dy=".35em">Loneliness</tspan><tspan x="1021" dy="1.3em">(state of</tspan><tspan x="1021" dy="1.3em">consciousness)</tspan></text></g>
<g id="n100"><rect class="n" x="1145" y="819" width="37" height="38"/><text class="t" x="1163.5" y="831.8" font-size="9.6"><tspan x="1163.5" dy=".35em">fear of</tspan><tspan x="1163.5" dy="1.3em">death</tspan></text></g>
<g id="n101"><rect class="n" x="1189" y="821" width="36" height="37"/><text class="t" x="1207" y="833.3" font-size="9.6"><tspan x="1207" dy=".35em">fear of</tspan><tspan x="1207" dy="1.3em">falls</tspan></text></g>
<g id="n102"><rect class="n" x="1306" y="738" width="36" height="37"/><text class="t" x="1324" y="751.9" font-size="7.1"><tspan x="1324" dy=".35em">Behavior</tspan><tspan x="1324" dy="1.3em">change</tspan></text></g>
<g id="n103"><rect class="n" x="1342" y="763" width="36" height="37"/><text class="t" x="1360" y="777.9" font-size="5.5"><tspan x="1360" dy=".35em">Change of</tspan><tspan x="1360" dy="1.3em">behaviours</tspan></text></g>
<g id="n104"><rect class="n" x="1305" y="818" width="36" height="37"/><text class="t" x="1323" y="826.9" font-size="7.4"><tspan x="1323" dy=".35em">Aversion</tspan><tspan x="1323" dy="1.3em">to</tspan><tspan x="1323" dy="1.3em">changes</tspan></text></g>
<g id="n105"><rect class="n" x="1305" y="873" width="36" height="36"/><text class="t" x="1323" y="884.5" font-size="5"><tspan x="1323" dy=".35em">Aversion to</tspan><tspan x="1323" dy="1.3em">dependence</tspan><tspan x="1323" dy="1.3em">on relatives</tspan></text></g>
<g id="n106"><rect class="n" x="1378" y="809" width="37" height="37"/><text class="t" x="1396.5" y="827.5" dy=".35em" font-size="5">Adaptability</text></g>
<g id="n107"><rect class="n" x="1308" y="926" width="36" height="37"/><text class="t" x="1326" y="941.2" font-size="5.1"><tspan x="1326" dy=".35em">family</tspan><tspan x="1326" dy="1.3em">dependency</tspan></text></g>
<g id="n108"><rect class="n" x="1359" y="926" width="36" height="37"/><text class="t" x="1377" y="940.7" font-size="5.9"><tspan x="1377" dy=".35em">supporting</tspan><tspan x="1377" dy="1.3em">family</tspan></text></g>
<g id="n109"><rect class="n" x="1395" y="906" width="36" height="73"/><text class="t" font-size="6.8"><tspan x="1413" y="916.9">proximity</tspan><tspan x="1413" y="926.1">of</tspan><tspan x="1413" y="935.4">relatives</tspan><tspan x="1413" y="953.4">Concept</tspan><tspan x="1413" y="962.9">of united</tspan><tspan x="1413" y="972.9">family</tspan></text></g>
</g>
<g id="connectors"/>
<g id="areas">
<g id="area-1"><rect class="d" x="25" y="446" width="620" height="472"/><text class="num" x="50.5" y="490">1</text></g>
<g id="area-2"><rect class="d" x="406" y="31" width="578" height="352"/><text class="num" x="425.5" y="78">2</text></g>
<g id="area-3"><rect class="d" x="392" y="386" width="628" height="652"/><text class="num" x="425" y="428">3</text></g>
<g id="area-4"><rect class="d" x="1027" y="22" width="523" height="406"/><text class="num" x="1046" y="61">4</text></g>
<g id="area-5"><rect class="d" x="967" y="462" width="583" height="532"/><text class="num" x="1521" y="510">5</text></g>
</g>
</g>
</svg>
